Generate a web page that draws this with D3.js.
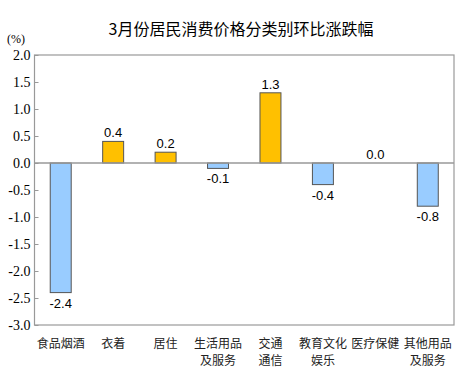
<!DOCTYPE html>
<html>
<head>
<meta charset="utf-8">
<script src="https://d3js.org/d3.v7.min.js"></script>
<style>
  body { margin: 0; background: #fff; }
</style>
</head>
<body>
<script>
// categories (each label may wrap to two lines)
var categories = [["食品烟酒"], ["衣着"], ["居住"], ["生活用品", "及服务"], ["交通", "通信"], ["教育文化", "娱乐"], ["医疗保健"], ["其他用品", "及服务"]];
var values = [-2.4, 0.4, 0.2, -0.1, 1.3, -0.4, 0.0, -0.8];
var yTicks = [2.0, 1.5, 1.0, 0.5, 0.0, -0.5, -1.0, -1.5, -2.0, -2.5, -3.0];

var width = 464, height = 370;
var margin = {left: 34.5, right: 10, top: 55, bottom: 45};
var serif = "'Liberation Serif', 'Times New Roman', serif";

var svg = d3.select("body").append("svg").attr("width", width).attr("height", height);

svg.append("text").attr("x", 241).attr("y", 35).attr("text-anchor", "middle")
  .style("font-family", "'Noto Sans CJK SC', sans-serif").style("font-size", "16px").attr("fill", "#000")
  .text("3月份居民消费价格分类别环比涨跌幅");

svg.append("text").attr("x", 16).attr("y", 43).attr("text-anchor", "middle")
  .style("font-family", serif).style("font-size", "12px")
  .text("(%)");

var x = d3.scaleBand().domain(d3.range(categories.length))
  .range([margin.left, width - margin.right]).paddingInner(0.6).paddingOuter(0.3);
var y = d3.scaleLinear().domain([-3, 2]).range([height - margin.bottom, margin.top]);

// frame
svg.append("rect").attr("x", margin.left).attr("y", y(2))
  .attr("width", width - margin.right - margin.left).attr("height", y(-3) - y(2))
  .attr("fill", "none").attr("stroke", "#999").attr("stroke-width", 1.2);

// y axis
var yAxis = d3.axisLeft(y).tickValues(yTicks).tickFormat(function(d) { return d3.format(".1f")(d).replace("−", "-"); })
  .tickSize(-4).tickPadding(8);
var gy = svg.append("g").attr("transform", "translate(" + margin.left + ",0)").call(yAxis);
gy.select(".domain").remove();
gy.selectAll(".tick line").attr("stroke", "#999");
gy.selectAll(".tick text").style("font-family", serif).style("font-size", "14px")
  .attr("fill", "#000").attr("x", -4);

// bars
svg.selectAll("rect.bar").data(values).enter().append("rect").attr("class", "bar")
  .attr("x", function(d, i) { return x(i); })
  .attr("y", function(d) { return y(Math.max(0, d)); })
  .attr("width", x.bandwidth())
  .attr("height", function(d) { return Math.abs(y(d) - y(0)); })
  .attr("fill", function(d) { return d >= 0 ? "#FFC000" : "#99CCFF"; })
  .attr("stroke", "#555").attr("stroke-width", 1);

// zero line
svg.append("line").attr("x1", margin.left).attr("x2", width - margin.right)
  .attr("y1", y(0)).attr("y2", y(0)).attr("stroke", "#999").attr("stroke-width", 1.5);

// value labels
svg.selectAll("text.val").data(values).enter().append("text").attr("class", "val")
  .attr("x", function(d, i) { return x(i) + x.bandwidth() / 2; })
  .attr("y", function(d) { return d >= 0 ? y(d) - 4 : y(d) + 15; })
  .attr("text-anchor", "middle")
  .style("font-family", "'Liberation Sans', Arial, sans-serif").style("font-size", "13px")
  .text(function(d) { return d.toFixed(1); });

// category labels
var cat = svg.selectAll("text.cat").data(categories).enter().append("text").attr("class", "cat")
  .attr("text-anchor", "middle")
  .style("font-family", "'Noto Sans CJK SC', sans-serif").style("font-size", "12px").attr("fill", "#222");
cat.selectAll("tspan").data(function(d, i) { return d.map(function(t) { return {t: t, i: i}; }); })
  .enter().append("tspan")
  .attr("x", function(d) { return x(d.i) + x.bandwidth() / 2; })
  .attr("y", function(d, j) { return y(-3) + 23 + j * 17; })
  .text(function(d) { return d.t; });
</script>
</body>
</html>
